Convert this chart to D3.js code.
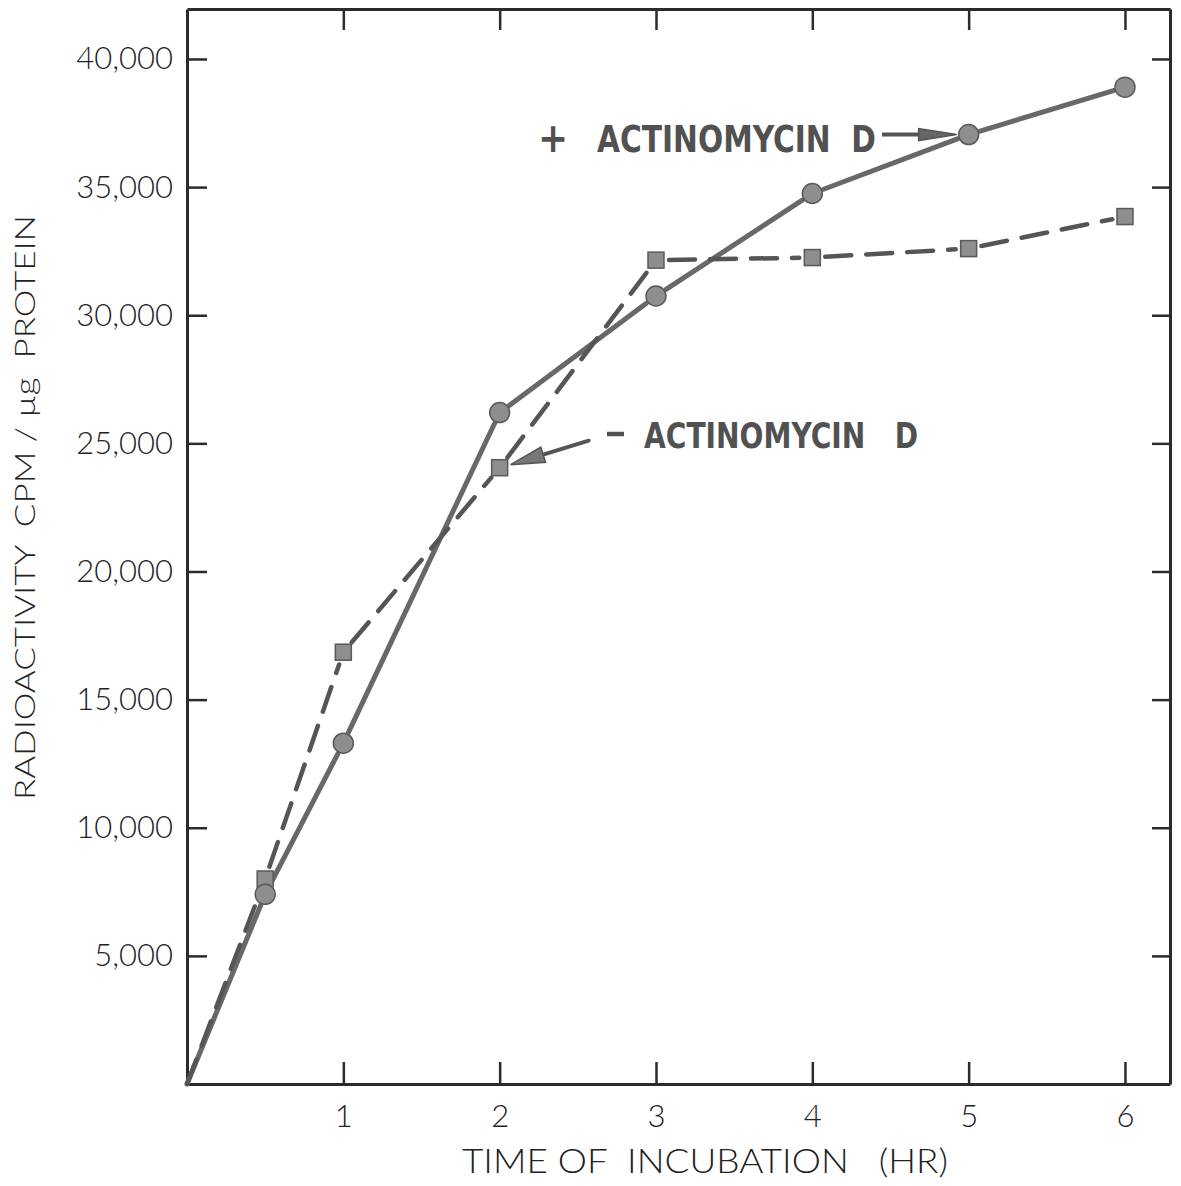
<!DOCTYPE html>
<html>
<head>
<meta charset="utf-8">
<script src="https://cdn.jsdelivr.net/npm/d3@7"></script>
<style>
  html, body { margin: 0; padding: 0; background: #fff; }
  svg { display: block; }
</style>
</head>
<body>
<script>
// Incubation times (hours)
const hours = [0, 0.5, 1, 2, 3, 4, 5, 6];
// Radioactivity, CPM per µg protein
const withActinomycin = [0, 7400, 13300, 26200, 30750, 34750, 37050, 38900];
const withoutActinomycin = [0, 8000, 16850, 24050, 32150, 32250, 32600, 33850];
// Axis ticks
const xTicks = [1, 2, 3, 4, 5, 6];
const yTicks = [5000, 10000, 15000, 20000, 25000, 30000, 35000, 40000];
// Labels
const xTitle = "TIME OF\u00a0\u00a0INCUBATION\u00a0\u00a0\u00a0(HR)";
const yTitle = "RADIOACTIVITY\u00a0\u00a0CPM\u00a0/\u00a0\u00b5g\u00a0\u00a0PROTEIN";
const plusLabel = ["+", "ACTINOMYCIN\u00a0\u00a0D"];
const minusLabel = ["\u2013", "ACTINOMYCIN\u00a0\u00a0\u00a0D"];

const W = 1181, H = 1186;
const plotLeft = 187, plotRight = 1170, plotTop = 9, plotBottom = 1084;

const svg = d3.select("body").append("svg")
  .attr("width", W).attr("height", H);

const x = d3.scaleLinear().domain([0, 6.288]).range([plotLeft, plotRight]);
const y = d3.scaleLinear().domain([0, 41950]).range([plotBottom, plotTop]);

const axisColor = "#2b2b2b";
const tickFont = "Lato, 'Open Sans', 'DejaVu Sans', sans-serif";

function styleAxis(g) {
  g.select(".domain").attr("stroke", axisColor).attr("stroke-width", 3);
  g.selectAll(".tick line").attr("stroke", axisColor).attr("stroke-width", 2.5);
  g.selectAll(".tick text")
    .attr("fill", "#222")
    .attr("font-family", tickFont)
    .attr("font-weight", 300)
    .attr("font-size", 31);
}

// Left axis with labelled ticks
svg.append("g")
  .attr("transform", `translate(${plotLeft},0)`)
  .call(d3.axisLeft(y).tickValues(yTicks).tickSize(-20).tickSizeOuter(0)
    .tickPadding(14).tickFormat(d3.format(",")))
  .call(styleAxis);

// Bottom axis with labelled ticks
svg.append("g")
  .attr("transform", `translate(0,${plotBottom})`)
  .call(d3.axisBottom(x).tickValues(xTicks).tickSize(-22).tickSizeOuter(0)
    .tickPadding(21).tickFormat(d3.format("d")))
  .call(styleAxis);

// Top and right frame edges with inward ticks
svg.append("g")
  .attr("transform", `translate(0,${plotTop})`)
  .call(d3.axisTop(x).tickValues(xTicks).tickSize(-21).tickSizeOuter(0).tickFormat(""))
  .call(styleAxis);
svg.append("g")
  .attr("transform", `translate(${plotRight},0)`)
  .call(d3.axisRight(y).tickValues(yTicks).tickSize(-18).tickSizeOuter(0).tickFormat(""))
  .call(styleAxis);

// Axis titles
svg.append("text")
  .attr("x", 462).attr("y", 1173)
  .attr("textLength", 486).attr("lengthAdjust", "spacingAndGlyphs")
  .attr("font-family", tickFont).attr("font-weight", 300)
  .attr("font-size", 34).attr("fill", "#222")
  .text(xTitle);

svg.append("text")
  .attr("transform", "translate(35,800) rotate(-90)")
  .attr("textLength", 585).attr("lengthAdjust", "spacingAndGlyphs")
  .attr("font-family", tickFont).attr("font-weight", 300)
  .attr("font-size", 28).attr("fill", "#222")
  .text(yTitle);

// Build point lists
const circles = hours.map((h, i) => ({ h, v: withActinomycin[i] }));
const squares = hours.map((h, i) => ({ h, v: withoutActinomycin[i] }));

// Segments between consecutive points, trimmed so they stop short of markers
function segments(pts, gap) {
  const out = [];
  for (let i = 0; i < pts.length - 1; i++) {
    const x1 = x(pts[i].h), y1 = y(pts[i].v);
    const x2 = x(pts[i + 1].h), y2 = y(pts[i + 1].v);
    const len = Math.hypot(x2 - x1, y2 - y1);
    const ux = (x2 - x1) / len, uy = (y2 - y1) / len;
    const g1 = pts[i].h === 0 ? 0 : gap;
    out.push({ x1: x1 + ux * g1, y1: y1 + uy * g1, x2: x2 - ux * gap, y2: y2 - uy * gap });
  }
  return out;
}

const lineG = svg.append("g");
lineG.selectAll("line.solid").data(segments(circles, 12)).join("line")
  .attr("class", "solid")
  .attr("x1", d => d.x1).attr("y1", d => d.y1)
  .attr("x2", d => d.x2).attr("y2", d => d.y2)
  .attr("stroke", "#686868").attr("stroke-width", 5).attr("stroke-linecap", "round");

lineG.selectAll("line.dash").data(segments(squares, 13)).join("line")
  .attr("class", "dash")
  .attr("x1", d => d.x1).attr("y1", d => d.y1)
  .attr("x2", d => d.x2).attr("y2", d => d.y2)
  .attr("stroke", "#555").attr("stroke-width", 4.5).attr("stroke-linecap", "round")
  .attr("stroke-dasharray", "26,15");

// Markers
const markG = svg.append("g");
markG.selectAll("rect").data(squares.filter(d => d.h > 0)).join("rect")
  .attr("x", d => x(d.h) - 8).attr("y", d => y(d.v) - 8)
  .attr("width", 16).attr("height", 16)
  .attr("fill", "#8e8e8e").attr("stroke", "#5a5a5a").attr("stroke-width", 1.5);

markG.selectAll("circle").data(circles.filter(d => d.h > 0)).join("circle")
  .attr("cx", d => x(d.h)).attr("cy", d => y(d.v)).attr("r", 10)
  .attr("fill", "#8e8e8e").attr("stroke", "#5a5a5a").attr("stroke-width", 1.5);

// Annotations
const annFont = "'Liberation Sans Narrow', 'DejaVu Sans Condensed', 'Liberation Sans', sans-serif";
function annText(str, x0, x1, base, size) {
  svg.append("text")
    .attr("x", x0).attr("y", base)
    .attr("textLength", x1 - x0).attr("lengthAdjust", "spacingAndGlyphs")
    .attr("font-family", annFont).attr("font-weight", "bold")
    .attr("font-size", size).attr("fill", "#515151")
    .text(str);
}

// "+ ACTINOMYCIN D" with arrow to the 5 h point
svg.append("text")
  .attr("x", 553).attr("y", 152).attr("text-anchor", "middle")
  .attr("font-family", annFont).attr("font-weight", "bold")
  .attr("font-size", 40).attr("fill", "#515151")
  .text(plusLabel[0]);
annText(plusLabel[1], 597, 876, 152, 37);

const c5 = circles.find(d => d.h === 5);
const tipA = [x(c5.h) - 12, y(c5.v)];
svg.append("line")
  .attr("x1", 882).attr("y1", tipA[1]).attr("x2", tipA[0] - 30).attr("y2", tipA[1])
  .attr("stroke", "#555").attr("stroke-width", 4);
svg.append("path")
  .attr("d", `M${tipA[0]},${tipA[1]} L${tipA[0] - 38},${tipA[1] - 6} L${tipA[0] - 38},${tipA[1] + 6} Z`)
  .attr("fill", "#666").attr("stroke", "#555").attr("stroke-width", 1.5);

// "– ACTINOMYCIN D" with arrow to the 2 h point
svg.append("line")
  .attr("x1", 607).attr("y1", 434).attr("x2", 624).attr("y2", 434)
  .attr("stroke", "#515151").attr("stroke-width", 4.5);
annText(minusLabel[1], 644, 918, 448, 36);

const s2 = squares.find(d => d.h === 2);
const tipB = [x(s2.h) + 11, y(s2.v) - 3];
const tail = [tipB[0] + 78, tipB[1] - 24];
const dx = tail[0] - tipB[0], dy = tail[1] - tipB[1];
const L = Math.hypot(dx, dy), ux = dx / L, uy = dy / L;
const bx = tipB[0] + ux * 34, by = tipB[1] + uy * 34;
svg.append("line")
  .attr("x1", bx).attr("y1", by).attr("x2", tail[0]).attr("y2", tail[1])
  .attr("stroke", "#555").attr("stroke-width", 4).attr("stroke-linecap", "round");
svg.append("path")
  .attr("d", `M${tipB[0]},${tipB[1]} L${bx - uy * 8},${by + ux * 8} L${bx + uy * 8},${by - ux * 8} Z`)
  .attr("fill", "#777").attr("stroke", "#555").attr("stroke-width", 1.5);
</script>
</body>
</html>
